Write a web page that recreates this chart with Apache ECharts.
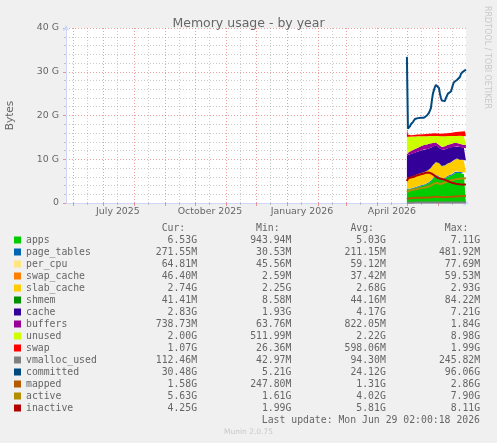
<!DOCTYPE html>
<html><head><meta charset="utf-8">
<script src="https://cdn.jsdelivr.net/npm/echarts@6/dist/echarts.min.js"></script>
<style>html,body{margin:0;padding:0;background:#F0F0F0;}#c{width:497px;height:443px;}</style>
</head><body><div id="c"></div>
<script>
// ---------- data ----------
const dates = ['2026-05-01','2026-05-02','2026-05-03','2026-05-04','2026-05-05','2026-05-06','2026-05-07','2026-05-08','2026-05-09','2026-05-10',
'2026-05-11','2026-05-12','2026-05-13','2026-05-14','2026-05-15','2026-05-16','2026-05-17','2026-05-18','2026-05-19','2026-05-20',
'2026-05-21','2026-05-22','2026-05-23','2026-05-24','2026-05-25','2026-05-26','2026-05-27','2026-05-28','2026-05-29','2026-05-30',
'2026-05-31','2026-06-01','2026-06-02','2026-06-03','2026-06-04','2026-06-05','2026-06-06','2026-06-07','2026-06-08','2026-06-09',
'2026-06-10','2026-06-11','2026-06-12','2026-06-13','2026-06-14','2026-06-15','2026-06-16','2026-06-17','2026-06-18','2026-06-19',
'2026-06-20','2026-06-21','2026-06-22','2026-06-23','2026-06-24','2026-06-25','2026-06-26','2026-06-27','2026-06-28','2026-06-29'];

const apps = [3.2,2.9,3.0,3.1,3.2,3.3,3.3,3.4,3.5,3.5,
3.6,3.6,3.7,3.8,3.8,3.9,4.0,4.0,4.1,4.2,
4.3,4.4,4.5,4.7,4.9,5.2,5.5,5.8,6.0,6.1,
6.2,6.1,5.9,5.6,5.4,5.3,5.2,5.3,5.5,5.7,
5.9,6.0,6.1,6.2,6.2,6.3,6.5,6.7,6.8,6.9,
7.0,6.9,6.8,6.7,6.8,6.9,6.7,6.6,6.5,6.53];
const page_tables = [0.14,0.15,0.15,0.16,0.16,0.17,0.17,0.17,0.18,0.18,
0.18,0.19,0.19,0.19,0.20,0.20,0.20,0.20,0.21,0.21,
0.21,0.21,0.22,0.22,0.22,0.23,0.23,0.24,0.24,0.24,
0.24,0.23,0.22,0.22,0.21,0.21,0.21,0.22,0.22,0.23,
0.23,0.23,0.24,0.24,0.24,0.25,0.25,0.25,0.26,0.26,
0.26,0.26,0.26,0.27,0.27,0.27,0.27,0.27,0.27,0.27];
const per_cpu = [0.046,0.048,0.050,0.051,0.052,0.053,0.054,0.054,0.055,0.055,
0.056,0.056,0.057,0.057,0.058,0.058,0.058,0.059,0.059,0.059,
0.060,0.060,0.060,0.061,0.061,0.061,0.062,0.062,0.062,0.062,
0.063,0.063,0.063,0.062,0.062,0.062,0.061,0.061,0.061,0.062,
0.062,0.062,0.063,0.063,0.063,0.064,0.064,0.064,0.064,0.064,
0.065,0.065,0.065,0.065,0.065,0.065,0.065,0.065,0.065,0.065];
const swap_cache = [0.003,0.008,0.012,0.015,0.018,0.020,0.022,0.024,0.026,0.028,
0.030,0.031,0.032,0.033,0.034,0.035,0.036,0.037,0.038,0.039,
0.040,0.041,0.042,0.043,0.044,0.045,0.046,0.047,0.048,0.049,
0.050,0.051,0.050,0.048,0.046,0.044,0.042,0.040,0.039,0.038,
0.038,0.039,0.040,0.041,0.042,0.043,0.044,0.045,0.046,0.047,
0.048,0.048,0.047,0.047,0.046,0.046,0.046,0.046,0.046,0.046];
const slab_cache = [2.30,2.40,2.45,2.50,2.52,2.55,2.55,2.58,2.60,2.60,
2.62,2.62,2.64,2.65,2.66,2.66,2.68,2.68,2.70,2.70,
2.72,2.72,2.74,2.75,2.76,2.78,2.80,2.80,2.82,2.84,
2.85,2.86,2.85,2.84,2.82,2.80,2.78,2.76,2.75,2.74,
2.73,2.72,2.72,2.71,2.70,2.70,2.71,2.72,2.73,2.74,
2.75,2.76,2.77,2.78,2.78,2.77,2.76,2.75,2.74,2.74];
const shmem = [0.020,0.025,0.030,0.035,0.038,0.040,0.042,0.044,0.045,0.046,
0.047,0.048,0.048,0.049,0.050,0.050,0.051,0.052,0.052,0.053,
0.053,0.054,0.055,0.056,0.057,0.058,0.058,0.057,0.055,0.053,
0.050,0.048,0.046,0.044,0.042,0.040,0.039,0.038,0.038,0.038,
0.039,0.040,0.041,0.042,0.042,0.043,0.043,0.043,0.042,0.042,
0.042,0.042,0.042,0.042,0.041,0.041,0.041,0.041,0.041,0.041];
const cache = [5.12,5.57,5.42,5.30,5.22,5.15,5.21,5.14,5.10,5.17,
5.12,5.20,5.16,5.12,5.18,5.16,5.12,5.19,5.04,5.02,
4.88,4.90,4.83,4.77,4.61,4.44,4.17,4.02,3.82,3.73,
3.55,3.46,3.49,3.62,3.65,3.66,3.76,3.76,3.65,3.54,
3.43,3.42,3.40,3.29,3.39,3.38,3.26,3.06,2.97,2.98,
2.79,2.80,2.80,2.90,2.81,2.62,2.72,2.83,2.94,2.83];
const buffers = [0.30,0.45,0.55,0.62,0.68,0.72,0.76,0.80,0.82,0.85,
0.88,0.90,0.92,0.95,0.98,1.00,1.02,1.05,1.08,1.10,
1.12,1.10,1.05,1.00,0.95,0.90,0.85,0.80,0.78,0.75,
0.72,0.70,0.68,0.66,0.65,0.66,0.68,0.70,0.72,0.74,
0.76,0.78,0.80,0.82,0.83,0.84,0.85,0.84,0.82,0.80,
0.78,0.76,0.75,0.74,0.73,0.73,0.74,0.74,0.74,0.74];
const unused = [4.0,3.6,3.5,3.4,3.3,3.2,3.1,3.0,2.9,2.8,
2.7,2.6,2.5,2.4,2.3,2.2,2.1,2.0,2.0,1.9,
1.9,1.8,1.8,1.7,1.7,1.6,1.6,1.5,1.5,1.5,
1.6,1.8,2.0,2.2,2.4,2.5,2.5,2.4,2.3,2.2,
2.1,2.0,1.9,1.9,1.8,1.7,1.6,1.6,1.6,1.5,
1.6,1.7,1.8,1.8,1.8,1.9,2.0,2.0,2.0,2.00];
const swap = [1.9,0.5,0.3,0.3,0.3,0.35,0.35,0.35,0.4,0.4,
0.4,0.4,0.42,0.42,0.45,0.45,0.45,0.48,0.48,0.5,
0.5,0.5,0.52,0.52,0.55,0.55,0.58,0.6,0.6,0.62,
0.62,0.6,0.58,0.56,0.55,0.55,0.56,0.58,0.6,0.62,
0.65,0.68,0.7,0.72,0.75,0.78,0.8,0.82,0.85,0.88,
0.9,0.92,0.95,0.98,1.0,1.0,1.02,1.04,1.06,1.07];
const vmalloc_used = [0.05,0.06,0.07,0.075,0.08,0.082,0.084,0.086,0.088,0.09,
0.09,0.091,0.092,0.093,0.094,0.095,0.096,0.097,0.098,0.099,
0.10,0.10,0.101,0.102,0.103,0.104,0.105,0.106,0.107,0.108,
0.108,0.106,0.104,0.10,0.098,0.096,0.095,0.094,0.094,0.095,
0.096,0.097,0.098,0.099,0.10,0.101,0.102,0.103,0.104,0.105,
0.106,0.107,0.108,0.109,0.11,0.11,0.111,0.112,0.112,0.1125];
const committed = [33.4,17.0,16.8,17.5,18.0,18.3,18.5,18.8,19.2,19.3,
19.4,19.4,19.3,19.4,19.5,19.4,19.4,19.5,19.6,19.8,
20.0,20.3,20.6,21.0,21.7,23.5,25.0,25.8,26.5,27.0,
27.2,27.0,26.3,25.0,24.0,23.4,23.2,23.0,23.3,24.0,
24.5,25.0,25.2,25.3,25.5,26.2,27.0,27.6,28.0,28.0,
28.1,28.2,28.4,28.8,29.5,29.8,30.0,30.2,30.4,30.48];
const mapped = [0.9,1.0,1.05,1.1,1.12,1.14,1.15,1.16,1.17,1.18,
1.19,1.2,1.2,1.21,1.22,1.22,1.23,1.24,1.24,1.25,
1.26,1.27,1.28,1.3,1.32,1.35,1.38,1.4,1.42,1.43,
1.44,1.43,1.4,1.37,1.35,1.33,1.32,1.32,1.33,1.35,
1.36,1.38,1.4,1.41,1.42,1.44,1.46,1.48,1.5,1.52,
1.53,1.54,1.55,1.56,1.57,1.57,1.58,1.58,1.58,1.58];
const active = [2.5,2.8,2.85,2.9,2.95,3.0,3.05,3.1,3.1,3.15,
3.2,3.25,3.3,3.3,3.35,3.4,3.45,3.5,3.55,3.6,
3.6,3.7,3.8,3.9,4.0,4.1,4.3,4.4,4.5,4.6,
4.6,4.5,4.4,4.3,4.3,4.4,4.5,4.6,4.7,4.8,
4.9,5.0,5.0,5.1,5.1,5.2,5.3,5.3,5.4,5.4,
5.5,5.5,5.4,5.5,5.6,5.6,5.6,5.6,5.62,5.63];
const inactive = [5.0,5.6,5.7,5.8,5.85,5.9,5.95,6.0,6.1,6.2,
6.3,6.4,6.45,6.5,6.55,6.6,6.7,6.8,6.85,6.9,
7.0,7.0,6.95,6.9,6.8,6.7,6.6,6.4,6.2,6.0,
5.8,5.7,5.6,5.6,5.55,5.5,5.45,5.4,5.3,5.2,
5.1,5.0,4.9,4.8,4.7,4.6,4.55,4.5,4.45,4.4,
4.35,4.3,4.3,4.25,4.2,4.2,4.2,4.25,4.25,4.25];

const seriesNames = ['apps','page_tables','per_cpu','swap_cache','slab_cache','shmem','cache','buffers','unused','swap','vmalloc_used','committed','mapped','active','inactive'];
const seriesColors = ['#00CC00','#0066B3','#FFE680','#FF8000','#FFCC00','#008F00','#330099','#990099','#CCFF00','#FF0000','#808080','#00487D','#B35A00','#B38F00','#B30000'];
const curVals = ['6.53G','271.55M','64.81M','46.40M','2.74G','41.41M','2.83G','738.73M','2.00G','1.07G','112.46M','30.48G','1.58G','5.63G','4.25G'];
const minVals = ['943.94M','30.53M','45.56M','2.59M','2.25G','8.58M','1.93G','63.76M','511.99M','26.36M','42.97M','5.21G','247.80M','1.61G','1.99G'];
const avgVals = ['5.03G','211.15M','59.12M','37.42M','2.68G','44.16M','4.17G','822.05M','2.22G','598.06M','94.30M','24.12G','1.31G','4.02G','5.81G'];
const maxVals = ['7.11G','481.92M','77.69M','59.53M','2.93G','84.22M','7.21G','1.84G','8.98G','1.99G','245.82M','96.06G','2.86G','7.90G','8.11G'];
const stackedCount = 10;

const yTicks = [0, 10, 20, 30, 40];
const xLabelTexts = ['July 2025','October 2025','January 2026','April 2026'];
const xLabelDates = ['2025-07-16','2025-10-16','2026-01-16','2026-04-16'];
const monthStarts = ['2025-06-01','2025-07-01','2025-08-01','2025-09-01','2025-10-01','2025-11-01','2025-12-01','2026-01-01','2026-02-01','2026-03-01','2026-04-01','2026-05-01','2026-06-01'];
const minorDates = ['2025-06-15','2025-07-15','2025-08-15','2025-09-15','2025-10-15','2025-11-15','2025-12-15','2026-01-15','2026-02-15','2026-03-15','2026-04-15','2026-05-15','2026-06-15'];
const rangeStart = '2025-05-25T02:00:00';
const rangeEnd = '2026-06-29T02:00:00';
const titleText = 'Memory usage - by year';
const lastUpdate = 'Last update: Mon Jun 29 02:00:18 2026';

// ---------- chart ----------
const t = s => new Date(s.length === 10 ? s + 'T00:00:00' : s).getTime();
const allData = [apps,page_tables,per_cpu,swap_cache,slab_cache,shmem,cache,buffers,unused,swap,vmalloc_used,committed,mapped,active,inactive];
const xMin = t(rangeStart), xMax = t(rangeEnd);
const labelTs = xLabelDates.map(t);

const MGRID = 'rgba(222,80,80,0.55)';
const GRID = 'rgba(140,140,140,0.45)';
const AXIS = '#CFD6F8';
const FONT = '#666666';

const series = seriesNames.map((name, i) => {
  const data = dates.map((d, k) => [t(d), allData[i][k]]);
  if (i < stackedCount) {
    return {type:'line', name, data, xAxisIndex:0, stack:'mem', symbol:'none', showSymbol:false,
      lineStyle:{width:0, color:seriesColors[i]}, itemStyle:{color:seriesColors[i]},
      areaStyle:{color:seriesColors[i], opacity:1}, z:2, silent:true};
  }
  return {type:'line', name, data, xAxisIndex:0, symbol:'none', showSymbol:false,
    lineStyle:{width:2, color:seriesColors[i]}, itemStyle:{color:seriesColors[i]}, z:3, silent:true};
});

const chart = echarts.init(document.getElementById('c'), null, {renderer:'canvas'});
chart.setOption({
  animation:false,
  backgroundColor:'#F0F0F0',
  title:{text:titleText, left:'center', top:12, textStyle:{fontFamily:'DejaVu Sans', fontSize:12.5, fontWeight:'normal', color:FONT}},
  grid:{left:66, top:28, width:400, height:175, show:true, backgroundColor:'#FFFFFF', borderWidth:0, containLabel:false},
  xAxis:[{
    // data axis (time)
    type:'time', min:xMin, max:xMax, position:'bottom',
    axisLine:{show:true, lineStyle:{color:AXIS, width:1}, symbol:['none','arrow'], symbolSize:[5,6], symbolOffset:[0,3]},
    axisTick:{show:false}, splitLine:{show:false}, axisLabel:{show:false}
  },{
    // monthly major grid + labels
    type:'value', min:xMin, max:xMax, position:'bottom',
    axisLine:{show:false},
    axisTick:{show:true, length:3, customValues:monthStarts.map(t), lineStyle:{color:MGRID}},
    splitLine:{show:true, lineStyle:{color:MGRID, type:[1,2], width:1}},
    axisLabel:{show:true, customValues:labelTs, margin:4, color:FONT, fontFamily:'DejaVu Sans', fontSize:9.4,
      formatter:(v) => { let bi = 0, bd = Infinity; labelTs.forEach((lt, j) => { const d = Math.abs(lt - v); if (d < bd) { bd = d; bi = j; } }); return xLabelTexts[bi]; }}
  },{
    // minor grid
    type:'value', min:xMin, max:xMax, position:'bottom',
    axisLine:{show:false},
    axisTick:{show:true, length:2, customValues:minorDates.map(t), lineStyle:{color:GRID}},
    splitLine:{show:true, lineStyle:{color:GRID, type:[1,2], width:1}},
    axisLabel:{show:false}
  }],
  yAxis:{
    type:'value', min:yTicks[0], max:yTicks[yTicks.length-1], interval:10,
    axisLine:{show:true, lineStyle:{color:AXIS, width:1}, symbol:['none','arrow'], symbolSize:[5,6], symbolOffset:[0,3]},
    axisTick:{show:true, length:3, lineStyle:{color:MGRID}},
    minorTick:{show:true, splitNumber:5, length:2, lineStyle:{color:GRID}},
    splitLine:{show:true, lineStyle:{color:MGRID, type:[1,2], width:1}},
    minorSplitLine:{show:true, lineStyle:{color:GRID, type:[1,2], width:1}},
    axisLabel:{margin:7, color:FONT, fontFamily:'DejaVu Sans', fontSize:9.4, formatter:v => v === 0 ? '0' : v + ' G'}
  },
  legend:{
    show:true, orient:'vertical', left:14, top:234, padding:0, itemGap:0, itemWidth:7, itemHeight:7,
    icon:'rect', selectedMode:false, data:seriesNames,
    textStyle:{fontFamily:'DejaVu Sans Mono', fontSize:9.8, color:FONT, lineHeight:12},
    formatter:name => { const i = seriesNames.indexOf(name); return name.padEnd(13) + curVals[i].padStart(16) + minVals[i].padStart(16) + avgVals[i].padStart(16) + maxVals[i].padStart(16); }
  },
  graphic:[
    {type:'text', x:10, y:115.5, rotation:Math.PI/2, style:{text:'Bytes', fill:FONT, font:'10.5px "DejaVu Sans"', align:'center', verticalAlign:'middle'}},
    {type:'text', x:26, y:228, style:{text:'Cur:'.padStart(27) + 'Min:'.padStart(16) + 'Avg:'.padStart(16) + 'Max:'.padStart(16), fill:FONT, font:'9.8px "DejaVu Sans Mono"', align:'left', verticalAlign:'middle'}},
    {type:'text', x:480, y:420.5, style:{text:lastUpdate, fill:FONT, font:'9.8px "DejaVu Sans Mono"', align:'right', verticalAlign:'middle'}},
    {type:'text', x:248.5, y:432, style:{text:'Munin 2.0.75', fill:'#C8C8C8', font:'7.5px "DejaVu Sans"', align:'center', verticalAlign:'middle'}},
    {type:'text', x:487, y:6, rotation:-Math.PI/2, style:{text:'RRDTOOL / TOBI OETIKER', fill:'#C8C8C8', font:'8px "DejaVu Sans"', align:'left', verticalAlign:'middle'}}
  ],
  series
});
</script></body></html>
